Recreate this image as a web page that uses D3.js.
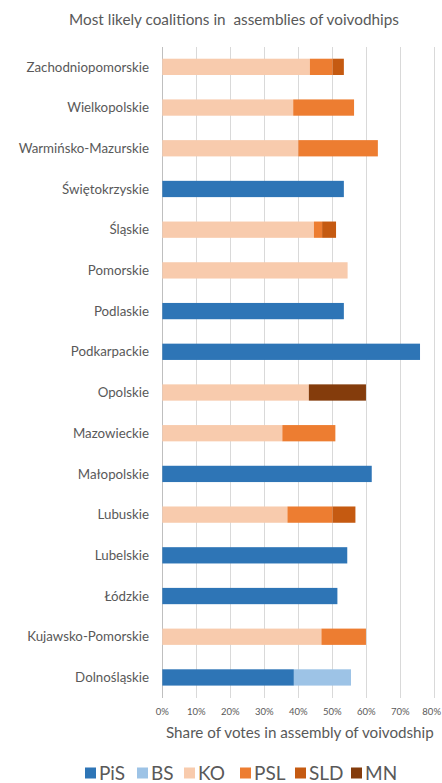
<!DOCTYPE html>
<html><head><meta charset="utf-8">
<script src="https://cdn.jsdelivr.net/npm/d3@7"></script>
<style>
html,body{margin:0;padding:0;background:#fff;}
svg{display:block;font-family:Lato,"Open Sans",sans-serif;}
text{white-space:pre;}
</style></head>
<body><svg id="c" width="442" height="783"></svg>
<script>
const categories = ["Zachodniopomorskie","Wielkopolskie","Warmińsko-Mazurskie","Świętokrzyskie","Śląskie","Pomorskie","Podlaskie","Podkarpackie","Opolskie","Mazowieckie","Małopolskie","Lubuskie","Lubelskie","Łódzkie","Kujawsko-Pomorskie","Dolnośląskie"];
const seriesNames = ["PiS","BS","KO","PSL","SLD","MN"];
const PiS = [0,0,0,53.4,0,0,53.4,75.8,0,0,61.6,0,54.4,51.5,0,38.7];
const BS  = [0,0,0,0,0,0,0,0,0,0,0,0,0,0,0,16.8];
const KO  = [43.4,38.5,40.0,0,44.6,54.5,0,0,43.1,35.3,0,36.8,0,0,46.8,0];
const PSL = [6.7,17.9,23.4,0,2.4,0,0,0,0,15.6,0,13.3,0,0,13.1,0];
const SLD = [3.3,0,0,0,4.1,0,0,0,0,0,0,6.7,0,0,0,0];
const MN  = [0,0,0,0,0,0,0,0,16.8,0,0,0,0,0,0,0];
const ticks = [0,10,20,30,40,50,60,70,80];
const title = "Most likely coalitions in  assemblies of voivodhips";
const xTitle = "Share of votes in assembly of voivodship";

const colors = {PiS:"#2E75B6",BS:"#9DC3E6",KO:"#F8CBAD",PSL:"#ED7D31",SLD:"#C55A11",MN:"#843C0C"};
const seriesVals = {PiS,BS,KO,PSL,SLD,MN};
const rows = categories.map((c,i)=>{const r={cat:c}; seriesNames.forEach(s=>r[s]=seriesVals[s][i]); return r;});

const svg = d3.select("#c");
const x = d3.scaleLinear().domain([0,80]).range([162.3,434.3]);
const y = d3.scaleBand().domain(categories).range([46.5,697.8]).paddingInner(0.6).paddingOuter(0.3);

// gridlines
svg.append("g").selectAll("line").data(ticks).join("line")
  .attr("x1",d=>x(d)).attr("x2",d=>x(d)).attr("y1",46.5).attr("y2",697.8)
  .attr("stroke",d=>d===0?"#bfbfbf":"#d9d9d9").attr("stroke-width",1)
  .attr("shape-rendering","crispEdges");

const stack = d3.stack().keys(seriesNames)(rows);
svg.append("g").selectAll("g").data(stack).join("g")
  .attr("fill",d=>colors[d.key])
  .selectAll("rect").data(d=>d.filter(p=>p[1]-p[0]>0)).join("rect")
  .attr("x",d=>x(d[0])).attr("width",d=>x(d[1])-x(d[0]))
  .attr("y",d=>y(d.data.cat)).attr("height",y.bandwidth());

// category labels
svg.append("g").selectAll("text").data(categories).join("text")
  .attr("x",149).attr("y",d=>y(d)+y.bandwidth()/2).attr("dy","0.35em")
  .attr("text-anchor","end").attr("fill","#595959").attr("font-size",13.3).text(d=>d);

// tick labels
const lastTick = ticks[ticks.length-1];
svg.append("g").selectAll("text").data(ticks).join("text")
  .attr("x",d=>d===lastTick?441:x(d)).attr("y",712).attr("dy","0.35em")
  .attr("text-anchor",d=>d===lastTick?"end":"middle").attr("fill","#595959").attr("font-size",9.5).text(d=>d+"%");

svg.append("text").attr("x",166).attr("y",733).attr("dy","0.35em")
  .attr("fill","#595959").attr("font-size",15.2).text(xTitle);

svg.append("text").attr("x",234).attr("y",20).attr("dy","0.35em").attr("text-anchor","middle")
  .attr("fill","#595959").attr("font-size",15.3).text(title);

// legend
const legX = {PiS:85,BS:137,KO:184,PSL:240,SLD:295,MN:351};
const lg = svg.append("g").selectAll("g").data(seriesNames).join("g")
  .attr("transform",d=>`translate(${legX[d]},773)`);
lg.append("rect").attr("x",0).attr("y",-5.5).attr("width",11).attr("height",11).attr("fill",d=>colors[d]);
lg.append("text").attr("x",14).attr("y",0).attr("dy","0.35em").attr("fill","#595959").attr("font-size",19).text(d=>d);
</script></body></html>
